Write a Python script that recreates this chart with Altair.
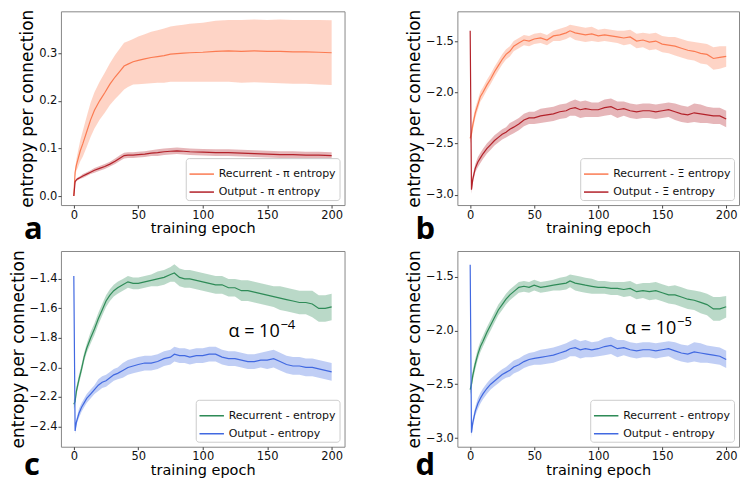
import altair as alt
import pandas as pd

# ---------------- data ----------------
epochs_a = [0, 1, 2, 3, 5, 7, 10, 13, 16, 20, 24, 28, 32, 36, 39, 42, 46, 50, 55, 60,
            65, 70, 75, 80, 85, 90, 100, 110, 120, 130, 140, 150, 160, 170, 180, 190, 200]
a_rec_mean = [0.0, 0.05, 0.065, 0.075, 0.095, 0.11, 0.135, 0.16, 0.18, 0.20, 0.217, 0.235, 0.25, 0.263, 0.273,
              0.277, 0.282, 0.285, 0.288, 0.291, 0.293, 0.295, 0.298, 0.299, 0.300, 0.301, 0.302, 0.304,
              0.305, 0.304, 0.305, 0.304, 0.304, 0.303, 0.303, 0.302, 0.301]
a_rec_sd = [0.0, 0.008, 0.012, 0.016, 0.022, 0.027, 0.032, 0.036, 0.038, 0.040, 0.042, 0.044, 0.046, 0.048,
            0.049, 0.048, 0.048, 0.050, 0.052, 0.054, 0.055, 0.057, 0.058, 0.059, 0.060, 0.061, 0.062,
            0.064, 0.065, 0.066, 0.066, 0.066, 0.067, 0.067, 0.067, 0.068, 0.068]
a_out_mean = [0.0, 0.030, 0.034, 0.036, 0.039, 0.042, 0.046, 0.050, 0.054, 0.058, 0.062, 0.067, 0.073, 0.080,
              0.085, 0.086, 0.086, 0.087, 0.088, 0.090, 0.091, 0.093, 0.094, 0.095, 0.094, 0.093, 0.092,
              0.091, 0.091, 0.090, 0.089, 0.088, 0.087, 0.087, 0.086, 0.086, 0.085]
a_out_sd = [0.0, 0.002, 0.003, 0.003, 0.003, 0.004, 0.004, 0.004, 0.005, 0.005, 0.005, 0.005, 0.006, 0.006,
            0.006, 0.006, 0.006, 0.006, 0.006, 0.006, 0.007, 0.007, 0.007, 0.007, 0.007, 0.007, 0.007,
            0.007, 0.007, 0.007, 0.007, 0.007, 0.007, 0.007, 0.007, 0.007, 0.007]

epochs = [0, 1, 2, 4, 6, 8, 10, 13, 16, 19, 22, 25, 28, 31, 34, 38, 42, 46, 50, 55,
          60, 65, 70, 75, 78, 82, 86, 90, 95, 100, 105, 110, 115, 120, 125, 130, 135, 140, 145, 150,
          155, 160, 165, 170, 175, 180, 185, 190, 195, 200]

b_rec_mean = [-2.45, -2.40, -2.32, -2.20, -2.12, -2.04, -2.00, -1.93, -1.87, -1.80,
              -1.74, -1.68, -1.63, -1.60, -1.55, -1.52, -1.49, -1.50, -1.48, -1.47,
              -1.49, -1.45, -1.44, -1.42, -1.40, -1.42, -1.43, -1.44, -1.43, -1.45,
              -1.44, -1.45, -1.46, -1.47, -1.46, -1.50, -1.49, -1.51, -1.50, -1.53,
              -1.54, -1.55, -1.57, -1.59, -1.60, -1.62, -1.63, -1.67, -1.66, -1.65]
b_rec_sd = [0.05, 0.05, 0.05, 0.05, 0.05, 0.05, 0.05, 0.05, 0.05, 0.05,
            0.05, 0.05, 0.05, 0.05, 0.05, 0.05, 0.05, 0.05, 0.05, 0.05,
            0.05, 0.05, 0.06, 0.06, 0.06, 0.07, 0.07, 0.07, 0.07, 0.06,
            0.06, 0.06, 0.06, 0.07, 0.07, 0.07, 0.07, 0.08, 0.08, 0.08,
            0.08, 0.09, 0.09, 0.09, 0.09, 0.10, 0.10, 0.11, 0.11, 0.10]
b_out_mean = [-1.40, -2.95, -2.85, -2.74, -2.68, -2.64, -2.60, -2.55, -2.51, -2.47,
              -2.44, -2.41, -2.39, -2.36, -2.34, -2.31, -2.27, -2.25, -2.25, -2.23,
              -2.22, -2.21, -2.19, -2.18, -2.16, -2.15, -2.17, -2.16, -2.17, -2.17,
              -2.15, -2.14, -2.17, -2.16, -2.18, -2.19, -2.18, -2.18, -2.19, -2.18,
              -2.17, -2.19, -2.21, -2.22, -2.20, -2.21, -2.22, -2.23, -2.23, -2.26]
b_out_sd = [0.0, 0.04, 0.04, 0.04, 0.05, 0.05, 0.05, 0.05, 0.05, 0.05,
            0.05, 0.05, 0.05, 0.06, 0.06, 0.06, 0.06, 0.06, 0.06, 0.07,
            0.07, 0.07, 0.07, 0.07, 0.07, 0.08, 0.08, 0.08, 0.07, 0.07,
            0.08, 0.08, 0.08, 0.07, 0.07, 0.07, 0.07, 0.07, 0.07, 0.07,
            0.07, 0.08, 0.08, 0.08, 0.09, 0.09, 0.08, 0.08, 0.08, 0.08]

c_rec_mean = [-2.25, -2.23, -2.16, -2.08, -2.01, -1.93, -1.87, -1.80, -1.74, -1.67,
              -1.61, -1.55, -1.51, -1.48, -1.46, -1.44, -1.42, -1.43, -1.43, -1.42,
              -1.41, -1.40, -1.39, -1.37, -1.36, -1.39, -1.40, -1.40, -1.41, -1.42,
              -1.43, -1.44, -1.44, -1.46, -1.46, -1.48, -1.48, -1.49, -1.50, -1.51,
              -1.52, -1.53, -1.54, -1.55, -1.56, -1.56, -1.57, -1.60, -1.60, -1.59]
c_rec_sd = [0.03, 0.03, 0.03, 0.03, 0.03, 0.03, 0.03, 0.04, 0.04, 0.04,
            0.04, 0.04, 0.04, 0.04, 0.04, 0.04, 0.04, 0.04, 0.04, 0.04,
            0.04, 0.05, 0.05, 0.05, 0.06, 0.06, 0.06, 0.06, 0.06, 0.06,
            0.06, 0.06, 0.06, 0.06, 0.06, 0.07, 0.07, 0.07, 0.07, 0.07,
            0.07, 0.08, 0.08, 0.08, 0.08, 0.08, 0.09, 0.09, 0.09, 0.09]
c_out_mean = [-1.38, -2.43, -2.37, -2.31, -2.27, -2.24, -2.21, -2.18, -2.15, -2.12,
              -2.10, -2.09, -2.07, -2.05, -2.04, -2.02, -2.00, -1.99, -1.98, -1.97,
              -1.97, -1.96, -1.94, -1.93, -1.91, -1.92, -1.92, -1.93, -1.92, -1.92,
              -1.91, -1.91, -1.93, -1.94, -1.94, -1.95, -1.96, -1.96, -1.95, -1.95,
              -1.94, -1.96, -1.98, -1.99, -1.99, -2.00, -2.00, -2.01, -2.02, -2.03]
c_out_sd = [0.0, 0.02, 0.02, 0.03, 0.03, 0.03, 0.03, 0.03, 0.03, 0.04,
            0.04, 0.04, 0.04, 0.04, 0.04, 0.05, 0.05, 0.05, 0.05, 0.05,
            0.05, 0.05, 0.05, 0.05, 0.05, 0.05, 0.05, 0.05, 0.05, 0.05,
            0.05, 0.05, 0.05, 0.05, 0.05, 0.05, 0.05, 0.05, 0.05, 0.06,
            0.06, 0.06, 0.06, 0.06, 0.06, 0.06, 0.06, 0.06, 0.06, 0.06]

d_rec_mean = [-2.55, -2.50, -2.42, -2.31, -2.22, -2.15, -2.10, -2.02, -1.95, -1.88,
              -1.81, -1.76, -1.71, -1.67, -1.64, -1.60, -1.59, -1.60, -1.58, -1.60,
              -1.59, -1.58, -1.57, -1.56, -1.54, -1.56, -1.57, -1.58, -1.59, -1.60,
              -1.60, -1.61, -1.61, -1.62, -1.61, -1.64, -1.63, -1.64, -1.63, -1.65,
              -1.67, -1.67, -1.69, -1.71, -1.72, -1.74, -1.76, -1.80, -1.80, -1.78]
d_rec_sd = b_rec_sd
d_out_mean = [-1.39, -2.95, -2.86, -2.75, -2.68, -2.63, -2.59, -2.54, -2.50, -2.47,
              -2.44, -2.41, -2.39, -2.37, -2.34, -2.32, -2.29, -2.27, -2.26, -2.25,
              -2.24, -2.23, -2.21, -2.19, -2.17, -2.16, -2.18, -2.17, -2.18, -2.17,
              -2.15, -2.14, -2.17, -2.16, -2.18, -2.19, -2.18, -2.18, -2.19, -2.18,
              -2.17, -2.19, -2.21, -2.22, -2.20, -2.21, -2.22, -2.23, -2.24, -2.27]
d_out_sd = b_out_sd

labels_a = ["Recurrent - π entropy", "Output - π entropy"]
labels_b = ["Recurrent - Ξ entropy", "Output - Ξ entropy"]
labels_cd = ["Recurrent - entropy", "Output - entropy"]

colors_warm = ["#fb7b52", "#b3222a"]
colors_cool = ["#2e8b57", "#4169e1"]

anno_c = {"x": [120], "y": [-1.795], "main": ["α = 10"], "sup": ["−4"]}
anno_d = {"x": [121], "y": [-2.035], "main": ["α = 10"], "sup": ["−5"]}

FONT = "DejaVu Sans"


def panel(x, rm, rs, om, osd, labels, colors, ydom, yticks, w, h, letter, letter_dx, letter_offset,
          anno=None):
    rows = []
    for name, m, s in ((labels[0], rm, rs), (labels[1], om, osd)):
        for xi, mi, si in zip(x, m, s):
            rows.append({"epoch": xi, "mean": mi, "lo": mi - si, "hi": mi + si, "series": name})
    df = pd.DataFrame(rows)
    xs = alt.Scale(domain=[-10, 210], nice=False, zero=False)
    ys = alt.Scale(domain=ydom, nice=False, zero=False)
    xax = alt.Axis(values=[0, 50, 100, 150, 200], title="training epoch", format="d",
                   titleFontSize=14.5, labelOverlap=False, titlePadding=1)
    yax = alt.Axis(values=yticks, title="entropy per connection", format=".1f",
                   titleFontSize=17, labelOverlap=False, titlePadding=2)
    cscale = alt.Scale(domain=labels, range=colors)
    leg = alt.Legend(title=None, orient="bottom-right", offset=5,
                     fillColor="white", strokeColor="#cccccc",
                     cornerRadius=3, padding=3, symbolType="stroke",
                     symbolSize=600, symbolStrokeWidth=1.5, symbolOpacity=1,
                     labelFontSize=11, labelFont=FONT, labelColor="#111",
                     rowPadding=-3, labelLimit=300)
    band = alt.Chart(df).mark_area(opacity=0.33).encode(
        x=alt.X("epoch:Q", scale=xs, axis=xax),
        y=alt.Y("lo:Q", scale=ys, axis=yax, stack=None),
        y2="hi:Q",
        color=alt.Color("series:N", scale=cscale, legend=leg),
    )
    line = alt.Chart(df).mark_line(strokeWidth=1.2).encode(
        x=alt.X("epoch:Q", scale=xs, axis=xax),
        y=alt.Y("mean:Q", scale=ys, axis=yax),
        color=alt.Color("series:N", scale=cscale, legend=leg),
    )
    layers = [band, line]
    if anno is not None:
        adf = pd.DataFrame(anno)
        layers.append(alt.Chart(adf).mark_text(align="left", baseline="alphabetic", fontSize=18,
                                               font="Open Sans", color="black").encode(
            x=alt.X("x:Q", scale=xs, axis=xax), y=alt.Y("y:Q", scale=ys, axis=yax), text="main:N"))
        layers.append(alt.Chart(adf).mark_text(align="left", baseline="alphabetic", fontSize=13,
                                               font="Open Sans", color="black", dx=52, dy=-8).encode(
            x=alt.X("x:Q", scale=xs, axis=xax), y=alt.Y("y:Q", scale=ys, axis=yax), text="sup:N"))
    return alt.layer(*layers).properties(
        width=w, height=h,
        title=alt.TitleParams(text=letter, orient="bottom", anchor="start", frame="group",
                              fontSize=31, fontWeight="bold", font="Open Sans", color="black",
                              baseline="alphabetic", dx=letter_dx, offset=letter_offset),
    )


pa = panel(epochs_a, a_rec_mean, a_rec_sd, a_out_mean, a_out_sd, labels_a, colors_warm,
           [-0.019, 0.388], [0.0, 0.1, 0.2, 0.3], 284, 194, "a", -37, 4)
pb = panel(epochs, b_rec_mean, b_rec_sd, b_out_mean, b_out_sd, labels_b, colors_warm,
           [-3.1, -1.21], [-3.0, -2.5, -2.0, -1.5], 282, 194, "b", -42, 4)
pc = panel(epochs, c_rec_mean, c_rec_sd, c_out_mean, c_out_sd, labels_cd, colors_cool,
           [-2.537, -1.211], [-2.4, -2.2, -2.0, -1.8, -1.6, -1.4], 284, 196, "c", -37, -2, anno=anno_c)
pd_ = panel(epochs, d_rec_mean, d_rec_sd, d_out_mean, d_out_sd, labels_cd, colors_cool,
            [-3.081, -1.262], [-3.0, -2.5, -2.0, -1.5], 282, 196, "d", -42, -2, anno=anno_d)

chart = alt.concat(pa, pb, pc, pd_, columns=2, spacing={"row": 46, "column": 113},
                   bounds="flush", align="each").resolve_scale(
    color="independent"
).properties(padding=0).configure_view(stroke="#888888", strokeWidth=1).configure_axis(
    grid=False, domain=False, tickSize=3, tickColor="#444", labelPadding=1,
    labelFont=FONT, labelFontSize=11.5, labelColor="#111",
    titleFont=FONT, titleFontWeight="normal", titleColor="#000",
)

chart.save("out.html", embed_options={"renderer": "svg", "actions": False})
